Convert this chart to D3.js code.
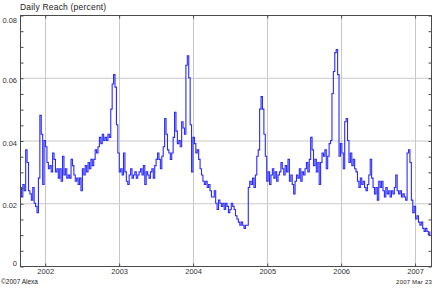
<!DOCTYPE html>
<html>
<head>
<meta charset="utf-8">
<script src="https://cdn.jsdelivr.net/npm/d3@7"></script>
<style>
  body { margin: 0; background: #fff; }
  svg { display: block; font-family: "Liberation Sans", Arial, sans-serif; }
</style>
</head>
<body>
<div id="chart"></div>
<script>
// weekly samples of daily reach, starting 2001-09-01
const startDate = new Date(2001, 8, 1);
const endDate = new Date(2007, 2, 23);
const reach = [
  0.025, 0.022, 0.026, 0.024, 0.037, 0.033, 0.024, 0.023, 0.021, 0.025,
  0.020, 0.019, 0.017, 0.028, 0.048, 0.042, 0.026, 0.040, 0.038, 0.033,
  0.031, 0.032, 0.030, 0.036, 0.034, 0.030, 0.031, 0.028, 0.031, 0.027,
  0.035, 0.029, 0.031, 0.028, 0.029, 0.028, 0.034, 0.032, 0.029, 0.027,
  0.028, 0.026, 0.028, 0.024, 0.031, 0.029, 0.032, 0.030, 0.033, 0.031,
  0.034, 0.032, 0.034, 0.037, 0.036, 0.038, 0.041, 0.039, 0.042, 0.040,
  0.041, 0.040, 0.042, 0.041, 0.050, 0.058, 0.061, 0.057, 0.045, 0.036,
  0.030, 0.031, 0.029, 0.036, 0.030, 0.027, 0.026, 0.029, 0.031, 0.028,
  0.029, 0.030, 0.028, 0.029, 0.030, 0.031, 0.029, 0.032, 0.026, 0.030,
  0.029, 0.028, 0.030, 0.031, 0.028, 0.032, 0.034, 0.036, 0.034, 0.031,
  0.035, 0.038, 0.047, 0.042, 0.037, 0.036, 0.034, 0.036, 0.041, 0.049,
  0.043, 0.039, 0.040, 0.038, 0.046, 0.044, 0.042, 0.064, 0.067, 0.060,
  0.045, 0.030, 0.041, 0.039, 0.036, 0.037, 0.034, 0.031, 0.029, 0.027,
  0.026, 0.027, 0.025, 0.026, 0.024, 0.022, 0.022, 0.024, 0.020, 0.018,
  0.021, 0.020, 0.019, 0.020, 0.018, 0.020, 0.019, 0.017, 0.018, 0.020,
  0.019, 0.018, 0.016, 0.015, 0.014, 0.013, 0.014, 0.013, 0.012, 0.013,
  0.013, 0.025, 0.027, 0.026, 0.028, 0.025, 0.029, 0.035, 0.037, 0.050,
  0.054, 0.050, 0.042, 0.035, 0.027, 0.030, 0.026, 0.029, 0.031, 0.028,
  0.030, 0.027, 0.029, 0.030, 0.033, 0.031, 0.029, 0.032, 0.030, 0.034,
  0.027, 0.029, 0.026, 0.023, 0.027, 0.029, 0.028, 0.031, 0.027, 0.030,
  0.029, 0.031, 0.033, 0.030, 0.034, 0.041, 0.037, 0.032, 0.034, 0.030,
  0.033, 0.026, 0.033, 0.036, 0.035, 0.037, 0.031, 0.035, 0.039, 0.040,
  0.055, 0.062, 0.068, 0.069, 0.061, 0.035, 0.039, 0.036, 0.031, 0.046,
  0.047, 0.040, 0.033, 0.036, 0.032, 0.034, 0.031, 0.030, 0.027, 0.025,
  0.028, 0.026, 0.027, 0.025, 0.024, 0.026, 0.029, 0.034, 0.028, 0.025,
  0.023, 0.025, 0.021, 0.027, 0.025, 0.027, 0.024, 0.022, 0.025, 0.023,
  0.024, 0.022, 0.024, 0.023, 0.025, 0.029, 0.024, 0.023, 0.024, 0.022,
  0.023, 0.022, 0.021, 0.036, 0.037, 0.033, 0.021, 0.017, 0.019, 0.015,
  0.016, 0.014, 0.013, 0.014, 0.012, 0.011, 0.012, 0.011, 0.010, 0.011
];
const yearTicks = [2002, 2003, 2004, 2005, 2006, 2007];
const yLabelTicks = [0, 0.02, 0.04, 0.06, 0.08];
const yGridTicks = [0.02, 0.04, 0.06];

const data = reach.map((v, i) => ({ date: d3.timeDay.offset(startDate, 7 * i), value: v }));

const width = 442;
const height = 288;
const margin = { top: 15, right: 11, bottom: 22, left: 20 };

const x = d3.scaleTime()
    .domain([startDate, endDate])
    .range([margin.left, width - margin.right]);

const y = d3.scaleLinear()
    .domain([0, 0.08])
    .range([height - margin.bottom, margin.top]);

const svg = d3.select('#chart')
    .append('svg')
    .attr('width', width)
    .attr('height', height);

const yearDates = yearTicks.map(yr => new Date(yr, 0, 1));

// grid lines
svg.append('g')
    .selectAll('line')
    .data(yGridTicks)
    .enter()
    .append('line')
    .attr('x1', margin.left)
    .attr('x2', width - margin.right)
    .attr('y1', d => y(d) + 0.5)
    .attr('y2', d => y(d) + 0.5)
    .attr('stroke', '#c8c8c8');

svg.append('g')
    .selectAll('line')
    .data(yearDates)
    .enter()
    .append('line')
    .attr('x1', d => Math.round(x(d)) + 0.5)
    .attr('x2', d => Math.round(x(d)) + 0.5)
    .attr('y1', margin.top)
    .attr('y2', height - margin.bottom)
    .attr('stroke', '#c8c8c8');

// the series
const line = d3.line()
    .x(d => x(d.date))
    .y(d => y(d.value))
    .curve(d3.curveStepAfter);

svg.append('path')
    .datum(data)
    .attr('fill', 'none')
    .attr('stroke', '#2a2aff')
    .attr('stroke-width', 1.1)
    .attr('d', line);

// frame
svg.append('rect')
    .attr('x', margin.left + 0.5)
    .attr('y', margin.top + 0.5)
    .attr('width', width - margin.left - margin.right)
    .attr('height', height - margin.top - margin.bottom)
    .attr('fill', 'none')
    .attr('stroke', '#4a4a4a');

const minorTicks = d3.range(0, 0.0801, 0.005);

// inward minor ticks on left and right
svg.append('g')
    .attr('transform', `translate(${margin.left + 0.5},0.5)`)
    .call(d3.axisLeft(y).tickValues(minorTicks).tickSizeInner(-3).tickSizeOuter(0).tickFormat(''))
    .call(g => g.select('.domain').remove())
    .call(g => g.selectAll('line').attr('stroke', '#4a4a4a'));

svg.append('g')
    .attr('transform', `translate(${width - margin.right + 0.5},0.5)`)
    .call(d3.axisRight(y).tickValues(minorTicks).tickSizeInner(-3).tickSizeOuter(0).tickFormat(''))
    .call(g => g.select('.domain').remove())
    .call(g => g.selectAll('line').attr('stroke', '#4a4a4a'));

// y labels
svg.append('g')
    .attr('transform', `translate(${margin.left},0)`)
    .call(d3.axisLeft(y).tickValues(yLabelTicks).tickSize(0).tickPadding(3)
        .tickFormat(d => d === 0 ? '0' : d3.format('.2f')(d)))
    .call(g => g.select('.domain').remove())
    .call(g => g.selectAll('text')
        .attr('font-size', '7.5px')
        .attr('fill', '#333')
        .attr('dy', d => d === 0.08 ? '0.95em' : d === 0 ? '-0.05em' : '0.6em'));

// bottom axis, ticks pointing up
svg.append('g')
    .attr('transform', `translate(0.5,${height - margin.bottom + 0.5})`)
    .call(d3.axisBottom(x).tickValues(yearDates).tickSizeInner(-3).tickSizeOuter(0).tickPadding(2)
        .tickFormat(d3.timeFormat('%Y')))
    .call(g => g.select('.domain').remove())
    .call(g => g.selectAll('line').attr('stroke', '#4a4a4a'))
    .call(g => g.selectAll('text').attr('font-size', '7.5px').attr('fill', '#333'));

// top axis, ticks pointing down
svg.append('g')
    .attr('transform', `translate(0.5,${margin.top + 0.5})`)
    .call(d3.axisTop(x).tickValues(yearDates).tickSizeInner(-3).tickSizeOuter(0).tickFormat(''))
    .call(g => g.select('.domain').remove())
    .call(g => g.selectAll('line').attr('stroke', '#4a4a4a'));

// texts
svg.append('text')
    .attr('x', margin.left)
    .attr('y', 10)
    .attr('font-size', '8.5px')
    .attr('fill', '#222')
    .attr('letter-spacing', '0.2px')
    .text('Daily Reach (percent)');

svg.append('text')
    .attr('x', 1)
    .attr('y', 284)
    .attr('font-size', '6.5px')
    .attr('fill', '#222')
    .text('©2007 Alexa');

svg.append('text')
    .attr('x', width - margin.right + 1)
    .attr('y', 284)
    .attr('text-anchor', 'end')
    .attr('font-size', '6px')
    .attr('fill', '#222')
    .attr('letter-spacing', '0.2px')
    .text('2007 Mar 23');
</script>
</body>
</html>
